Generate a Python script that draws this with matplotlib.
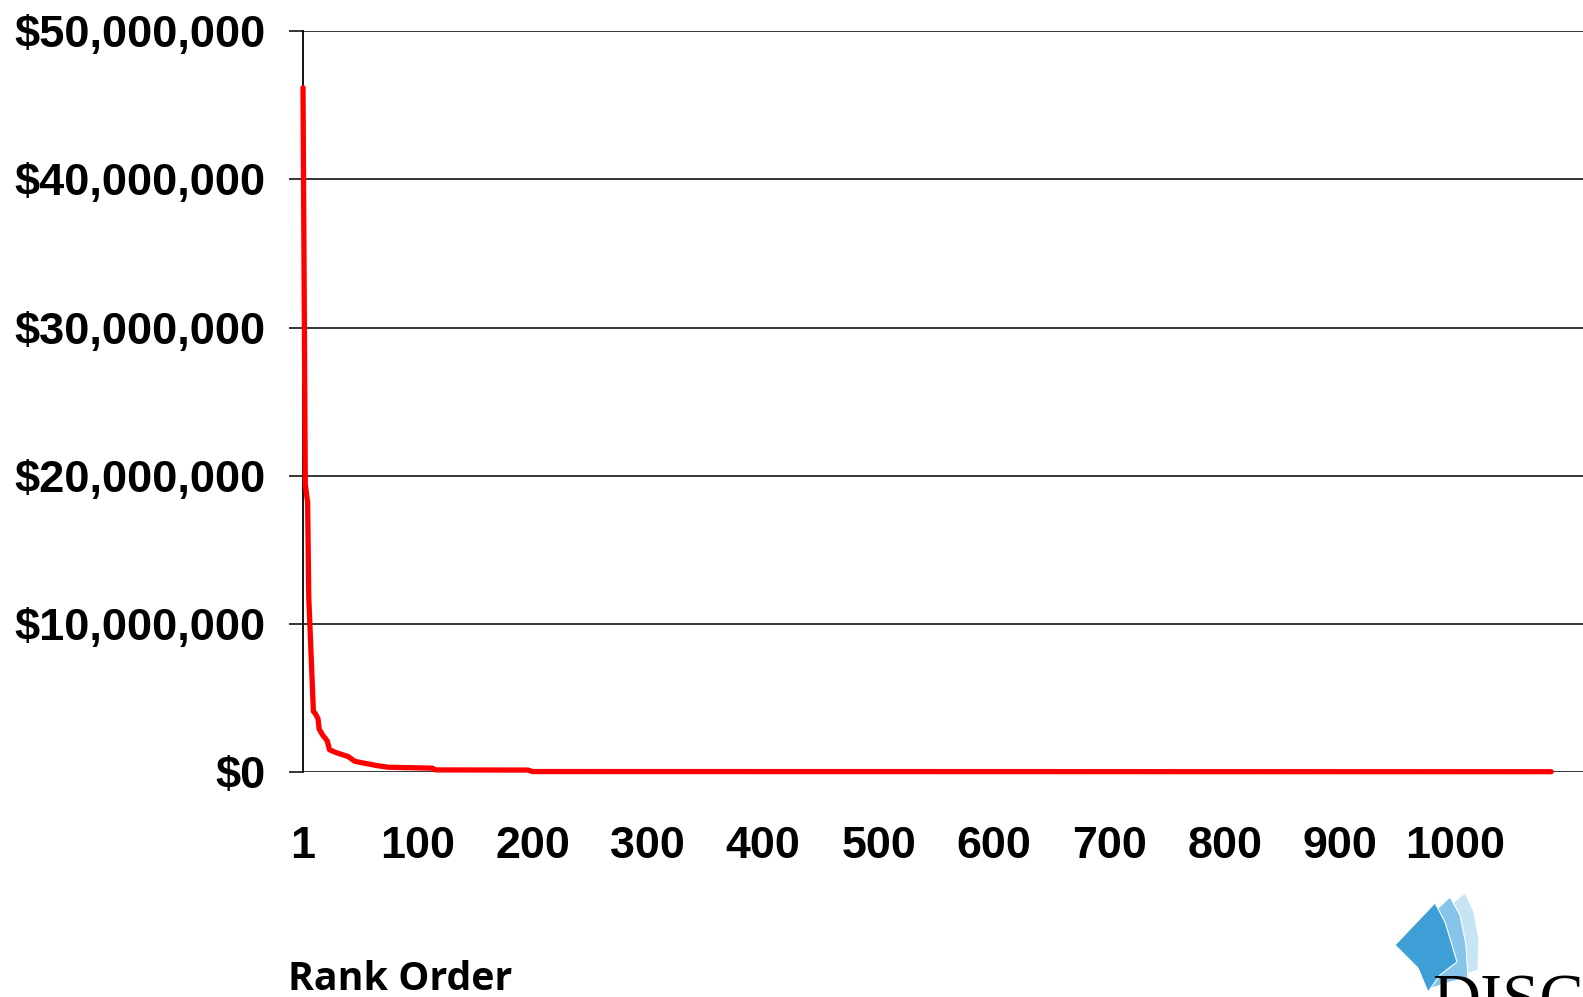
import numpy as np
import matplotlib
matplotlib.use("Agg")
import matplotlib.pyplot as plt
from matplotlib.patches import Polygon
from matplotlib.ticker import FuncFormatter

# key points of the ranked curve (rank, dollars)
ranks = [1, 3, 5, 6, 10, 12, 14, 15, 18, 22, 24, 30, 40, 46, 55, 66, 75,
         113, 116, 196, 200, 1083]
values = [46.2e6, 19.4e6, 18.2e6, 11.8e6, 4.1e6, 3.9e6, 3.6e6, 2.9e6, 2.5e6,
          2.1e6, 1.5e6, 1.3e6, 1.05e6, 0.72e6, 0.58e6, 0.42e6, 0.32e6,
          0.26e6, 0.14e6, 0.13e6, 0.03e6, 0.02e6]

x_ticks = [1, 100, 200, 300, 400, 500, 600, 700, 800, 900, 1000]
y_ticks = [0, 10e6, 20e6, 30e6, 40e6, 50e6]

W, H = 1583, 997
fig = plt.figure(figsize=(W / 100, H / 100), dpi=100)

# axes placed in pixel terms: left spine at x=303, 0 at y=772, 50M at y=31
left_px, right_px = 303, 1600
bot_px, top_px = 772, 31.3
ax = fig.add_axes([left_px / W, 1 - bot_px / H,
                   (right_px - left_px) / W, (bot_px - top_px) / H])

px_per_rank = 1.1536
ax.set_xlim(1, 1 + (right_px - left_px) / px_per_rank)
ax.set_ylim(0, 50e6)

ax.plot(ranks, values, color="#FF0000", lw=3.8, solid_joinstyle="round",
        solid_capstyle="round", zorder=3, clip_on=False)

ax.set_yticks(y_ticks)
ax.yaxis.set_major_formatter(FuncFormatter(lambda v, p: "${:,.0f}".format(v)))
ax.set_xticks(x_ticks)
ax.set_xticklabels([str(t) for t in x_ticks])

for lab in ax.get_yticklabels():
    lab.set_fontfamily("Liberation Sans")
    lab.set_fontweight("bold")
    lab.set_fontsize(32.6)
for lab in ax.get_xticklabels():
    lab.set_fontfamily("Liberation Sans")
    lab.set_fontweight("bold")
    lab.set_fontsize(32.3)

ax.tick_params(axis="y", length=10, width=1.1, color="black", pad=17)
ax.tick_params(axis="x", length=0, pad=39)

ax.grid(axis="y", color="black", lw=1.1)
ax.set_axisbelow(True)
for s in ["top", "right", "bottom"]:
    ax.spines[s].set_visible(False)
ax.spines["left"].set_linewidth(1.3)

fig.text(288 / W, 1 - 990 / H, "Rank Order", fontfamily="Open Sans",
         fontweight="bold", fontsize=28.3, ha="left", va="baseline")

# logo in the bottom-right corner, partly cut off
def fp(pts):
    return [(x / W, 1 - y / H) for x, y in pts]

back = fp([(1410, 938), (1465, 893), (1474, 912), (1479, 940), (1478, 970),
           (1455, 978), (1440, 986)])
mid = fp([(1402, 942), (1450, 897), (1460, 915), (1466, 945), (1468, 978),
          (1450, 982), (1432, 988)])
front = fp([(1395, 945), (1435, 903), (1445, 922), (1452, 945), (1457, 962),
            (1440, 975), (1428, 992), (1418, 968)])
for pts, col in [(back, "#C7E4F5"), (mid, "#86C4E9"), (front, "#3D9FD6")]:
    fig.patches.append(Polygon(pts, closed=True, transform=fig.transFigure,
                               facecolor=col, edgecolor="white", lw=0.8))
fig.text(1432 / W, 1 - 1020 / H, "DISC", fontfamily="Liberation Serif",
         fontsize=48, color="black", ha="left", va="baseline")

fig.savefig("out.png", dpi=100)
